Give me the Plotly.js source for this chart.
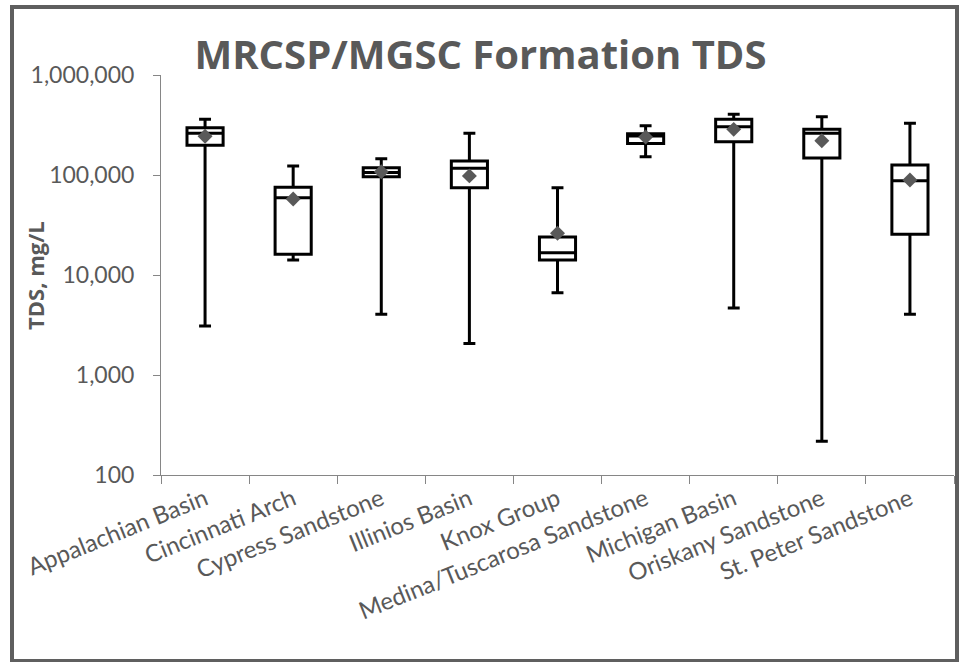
<!DOCTYPE html>
<html>
<head>
<meta charset="utf-8">
<script src="https://cdn.plot.ly/plotly-3.0.1.min.js"></script>
<style>
  html, body { margin: 0; padding: 0; background: #ffffff; }
  #wrap { position: relative; width: 961px; height: 662px; overflow: hidden; }
  #chart { position: absolute; left: 0; top: 0; width: 961px; height: 662px; }
  #frame { position: absolute; left: 10px; top: 5px; width: 949px; height: 658px;
           box-sizing: border-box; border: 4px solid #5f5f5f; pointer-events: none; }
</style>
</head>
<body>
<div id="wrap">
  <div id="chart"></div>
  <div id="frame"></div>
</div>
<script>
// ---- data ----
const categories = ["Appalachian Basin", "Cincinnati Arch", "Cypress Sandstone", "Illinios Basin",
  "Knox Group", "Medina/Tuscarosa Sandstone", "Michigan Basin", "Oriskany Sandstone", "St. Peter Sandstone"];
const minValues    = [3090, 14100, 4050, 2060, 6650, 152000, 4680, 217, 4050];
const q1Values     = [198000, 16100, 96300, 74700, 14100, 207000, 215000, 148000, 25500];
const medianValues = [261000, 59300, 106000, 117000, 16700, 245000, 304000, 261000, 87800];
const q3Values     = [297000, 75300, 118000, 138000, 24000, 259000, 360000, 286000, 126000];
const maxValues    = [360000, 123000, 145000, 261000, 74700, 311000, 404000, 383000, 329000];
const meanValues   = [244000, 57500, 108000, 98000, 26100, 240000, 286000, 220000, 89100];
const yTickValues  = [100, 1000, 10000, 100000, 1000000];
const yTickLabels  = ["100", "1,000", "10,000", "100,000", "1,000,000"];

const gray = "#595959";
const axisGray = "#868686";

const boxTrace = {
  type: "box",
  x: categories,
  q1: q1Values,
  median: medianValues,
  q3: q3Values,
  lowerfence: minValues,
  upperfence: maxValues,
  boxpoints: false,
  width: 0.41,
  whiskerwidth: 0.33,
  fillcolor: "#ffffff",
  line: { color: "#000000", width: 3 },
  hoverinfo: "skip"
};

const meanTrace = {
  type: "scatter",
  mode: "markers",
  x: categories,
  y: meanValues,
  marker: { symbol: "diamond", size: 11.5, color: gray, line: { width: 0 } },
  hoverinfo: "skip"
};

const layout = {
  width: 961,
  height: 662,
  margin: { l: 161, r: 7, t: 75, b: 187, pad: 0 },
  paper_bgcolor: "#ffffff",
  plot_bgcolor: "#ffffff",
  showlegend: false,
  title: {
    text: "MRCSP/MGSC Formation TDS",
    font: { family: "Open Sans, sans-serif", size: 40, color: gray, weight: 700 },
    x: 0.5, xanchor: "center",
    y: 0.917, yanchor: "middle"
  },
  xaxis: {
    type: "category",
    range: [-0.5, 8.5],
    showline: true, linecolor: axisGray, linewidth: 1,
    ticks: "outside", tickson: "boundaries", ticklen: 8, tickcolor: axisGray, tickwidth: 1,
    tickangle: -22,
    tickfont: { family: "Lato, sans-serif", size: 24, color: gray },
    showgrid: false, zeroline: false
  },
  yaxis: {
    type: "log",
    range: [2, 6],
    tickmode: "array",
    tickvals: yTickValues,
    ticktext: yTickLabels,
    showline: true, linecolor: axisGray, linewidth: 1,
    ticks: "outside", ticklen: 7, tickcolor: axisGray, tickwidth: 1,
    ticklabelstandoff: 14,
    tickfont: { family: "Lato, sans-serif", size: 23, color: gray },
    showgrid: false, zeroline: false
  },
  annotations: [{
    text: "<b>TDS, mg/L</b>",
    xref: "paper", yref: "paper",
    x: (35 - 161) / (954 - 161), y: (475 - 275) / 400,
    xanchor: "center", yanchor: "middle",
    textangle: -90, showarrow: false,
    font: { family: "Open Sans, sans-serif", size: 22, color: gray }
  }]
};

Plotly.newPlot("chart", [boxTrace, meanTrace], layout, { staticPlot: true, displayModeBar: false });
</script>
</body>
</html>
